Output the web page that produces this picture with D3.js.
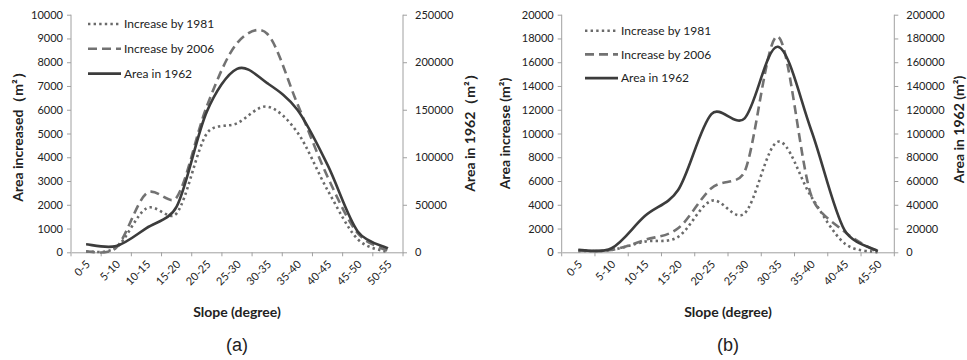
<!DOCTYPE html>
<html><head><meta charset="utf-8">
<script src="https://cdn.jsdelivr.net/npm/d3@7/dist/d3.min.js"></script>
<style>body{margin:0;background:#fff}svg{display:block}text{font-family:Lato,"Open Sans",sans-serif}</style>
</head><body>
<svg id="c" width="967" height="360"></svg>
<script>
// Panel (a)
const catsA = ["0-5","5-10","10-15","15-20","20-25","25-30","30-35","35-40","40-45","45-50","50-55"];
const a1981 = [30,200,1850,1640,5000,5430,6130,5050,2620,550,0];
const a2006 = [30,200,2480,2310,6150,8800,9200,6250,3180,800,50];
const a1962 = [8400,6600,25500,48000,148000,193000,178000,150000,92000,22000,4200];
const leftTicksA = [0,1000,2000,3000,4000,5000,6000,7000,8000,9000,10000];
const rightTicksA = [0,50000,100000,150000,200000,250000];
// Panel (b)
const catsB = ["0-5","5-10","10-15","15-20","20-25","25-30","30-35","35-40","40-45","45-50"];
const b1981 = [100,200,900,1300,4340,3280,9310,4700,760,0];
const b2006 = [150,200,1040,2020,5390,6790,18150,4800,1740,0];
const b1962 = [2000,3400,30500,52400,116400,112800,173000,103000,18800,1000];
const leftTicksB = [0,2000,4000,6000,8000,10000,12000,14000,16000,18000,20000];
const rightTicksB = [0,20000,40000,60000,80000,100000,120000,140000,160000,180000,200000];
const legendLabels = ["Increase by 1981","Increase by 2006","Area in 1962"];

const svg = d3.select("#c");
const axisCol = "#a0a0a0";

// Catmull-Rom style smoothing (arms = neighbour span / 6), arms clamped to a share of the segment
function smoothPath(pts){
  const n = pts.length, K = 0.4;
  const T = pts.map((p,i)=>{
    const a = pts[Math.max(0,i-1)], b = pts[Math.min(n-1,i+1)];
    return [(b[0]-a[0])/6,(b[1]-a[1])/6];
  });
  const arm = (t, chord) => { const L=Math.hypot(t[0],t[1]); const s = L>K*chord ? K*chord/L : 1; return [t[0]*s,t[1]*s]; };
  const p = d3.path();
  p.moveTo(pts[0][0],pts[0][1]);
  for(let i=0;i<n-1;i++){
    const a=pts[i], b=pts[i+1]; const ch=Math.hypot(b[0]-a[0],b[1]-a[1]);
    const t1 = arm(T[i],ch), t2 = arm(T[i+1],ch);
    p.bezierCurveTo(a[0]+t1[0], a[1]+t1[1], b[0]-t2[0], b[1]-t2[1], b[0], b[1]);
  }
  return p.toString();
}

function panel(o){
  const g = svg.append("g");
  const x = d3.scaleBand().domain(o.cats).range([o.x0,o.x1]);
  const yL = d3.scaleLinear().domain([0,o.leftTicks[o.leftTicks.length-1]]).range([o.yb,o.yt]);
  const yR = d3.scaleLinear().domain([0,o.rightTicks[o.rightTicks.length-1]]).range([o.yb,o.yt]);
  const la = g.append("g").attr("transform",`translate(${o.x0},0)`)
    .call(d3.axisLeft(yL).tickValues(o.leftTicks).tickSize(4).tickPadding(4).tickFormat(d3.format("d")));
  const ra = g.append("g").attr("transform",`translate(${o.x1},0)`)
    .call(d3.axisRight(yR).tickValues(o.rightTicks).tickSize(4).tickPadding(8).tickFormat(d3.format("d")));
  const xa = g.append("g").attr("transform",`translate(0,${o.yb})`)
    .call(d3.axisBottom(x).tickSize(0).tickFormat(""));
  const bounds = o.cats.map(c=>x(c)).concat([o.x1]);
  g.selectAll(".xt").data(bounds).join("line")
    .attr("x1",d=>d).attr("x2",d=>d).attr("y1",o.yb).attr("y2",o.yb+4)
    .attr("stroke",axisCol);
  [la,ra,xa].forEach(a=>{
    a.selectAll("path,line").attr("stroke",axisCol);
    a.selectAll("text").attr("fill","#222").style("font-size","11px").style("font-family","Lato");
  });
  ra.select(".domain").attr("d",`M0,${o.yb}V${o.yt}`);
  la.select(".domain").attr("d",`M0,${o.yb}V${o.yt}`);
  g.selectAll(".xl").data(o.cats).join("text")
    .attr("transform",d=>`translate(${x(d)+x.bandwidth()/2+2},${o.yb+10}) rotate(-45)`)
    .attr("text-anchor","end").attr("dy","0.35em")
    .style("font-size","11px").attr("fill","#222").text(d=>d);
  const cx = d => x(d)+x.bandwidth()/2;
  const ptsL = s => s.map((v,i)=>[cx(o.cats[i]), yL(v)]);
  const ptsR = s => s.map((v,i)=>[cx(o.cats[i]), yR(v)]);
  const styles = [
    {stroke:"#6a6a6a", dash:"2.4,3.2", w:2.6},
    {stroke:"#727272", dash:"9,5", w:2.6},
    {stroke:"#3c3c3c", dash:null, w:2.6}
  ];
  g.append("path").attr("d",smoothPath(ptsL(o.s1))).attr("fill","none").attr("stroke",styles[0].stroke)
    .attr("stroke-width",styles[0].w).attr("stroke-dasharray",styles[0].dash);
  g.append("path").attr("d",smoothPath(ptsL(o.s2))).attr("fill","none").attr("stroke",styles[1].stroke)
    .attr("stroke-width",styles[1].w).attr("stroke-dasharray",styles[1].dash);
  g.append("path").attr("d",smoothPath(ptsR(o.s3))).attr("fill","none").attr("stroke",styles[2].stroke)
    .attr("stroke-width",styles[2].w);
  legendLabels.forEach((t,i)=>{
    const yy = o.legY + i*o.legDy;
    g.append("line").attr("x1",o.legX).attr("x2",o.legX+33).attr("y1",yy).attr("y2",yy)
      .attr("stroke",styles[i].stroke).attr("stroke-width",styles[i].w)
      .attr("stroke-dasharray",styles[i].dash);
    g.append("text").attr("x",o.legX+36).attr("y",yy).attr("dy","0.35em")
      .style("font-size","12px").attr("fill","#222").text(t);
  });
  g.append("text").attr("transform",`translate(${o.ltX},${(o.yt+o.yb)/2}) rotate(-90)`)
    .attr("text-anchor","middle").attr("dy","0.35em").style("font-size","14px").style("font-weight","bold")
    .attr("fill","#222").text(o.lt);
  g.append("text").attr("transform",`translate(${o.rtX},${(o.yt+o.yb)/2-4}) rotate(-90)`)
    .attr("text-anchor","middle").attr("dy","0.35em").style("font-size","14px").style("font-weight","bold")
    .attr("fill","#222").text(o.rt);
  g.append("text").attr("x",(o.x0+o.x1)/2).attr("y",312).attr("text-anchor","middle").attr("dy","0.35em")
    .style("font-size","14px").style("font-weight","bold").attr("fill","#222").text("Slope (degree)");
  g.append("text").attr("x",(o.x0+o.x1)/2).attr("y",345).attr("text-anchor","middle").attr("dy","0.35em")
    .style("font-size","18px").style("font-family","Liberation Sans, Arial, sans-serif").attr("fill","#222").text(o.tag);
}

panel({cats:catsA, s1:a1981, s2:a2006, s3:a1962, leftTicks:leftTicksA, rightTicks:rightTicksA,
  x0:71, x1:403, yt:14.7, yb:252.3, legX:88, legY:24, legDy:24.8,
  ltX:18, rtX:470, lt:"Area increased（m²）", rt:"Area in 1962（m²）", tag:"(a)"});
panel({cats:catsB, s1:b1981, s2:b2006, s3:b1962, leftTicks:leftTicksB, rightTicks:rightTicksB,
  x0:561.7, x1:894.3, yt:14.7, yb:252.3, legX:585, legY:30.7, legDy:23.7,
  ltX:505, rtX:959, lt:"Area increase (m²)", rt:"Area in 1962 (m²)", tag:"(b)"});
</script>
</body></html>
